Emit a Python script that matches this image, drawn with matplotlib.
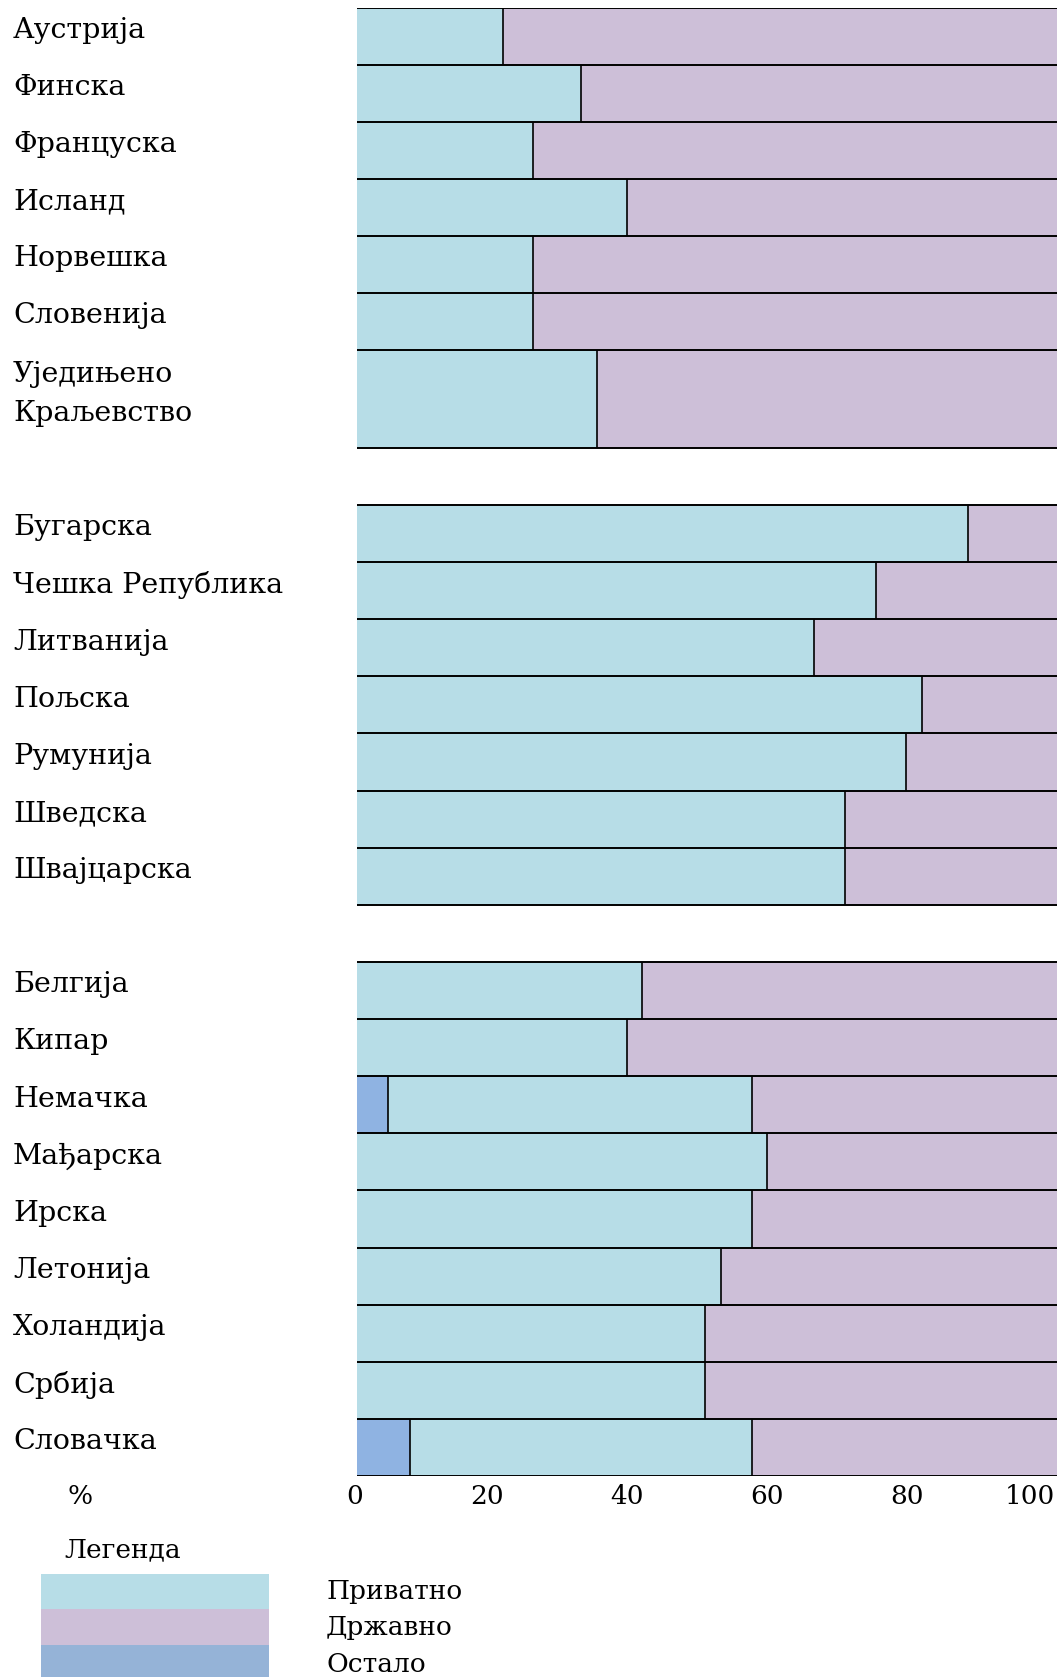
import numpy as np
import matplotlib.pyplot as plt
from matplotlib.transforms import blended_transform_factory, ScaledTranslation
from matplotlib.patches import Rectangle

# data: share of private / state / other (%)
group1 = ['Аустрија', 'Финска', 'Француска', 'Исланд', 'Норвешка', 'Словенија',
          'Уједињено\nКраљевство']
private1 = [20.8, 32, 25.2, 38.5, 25.2, 25.2, 34.3]
other1 = [0, 0, 0, 0, 0, 0, 0]

group2 = ['Бугарска', 'Чешка Република', 'Литванија', 'Пољска', 'Румунија',
          'Шведска', 'Швајцарска']
private2 = [87.3, 74.1, 65.3, 80.7, 78.4, 69.7, 69.7]
other2 = [0, 0, 0, 0, 0, 0, 0]

group3 = ['Белгија', 'Кипар', 'Немачка', 'Мађарска', 'Ирска', 'Летонија',
          'Холандија', 'Србија', 'Словачка']
private3 = [40.7, 38.5, 52.0, 58.6, 56.4, 52.0, 49.7, 49.7, 48.8]
other3 = [0, 0, 4.4, 0, 0, 0, 0, 0, 7.6]

xticks = [0, 20, 40, 60, 80, 100]
legend_labels = ['Приватно', 'Државно', 'Остало']

c_private = '#b7dde7'
c_state = '#cdbfd8'
c_other = '#8fb3e2'
c_other_leg = '#95b3d7'

plt.rcParams['font.family'] = ['DejaVu Serif']

W, H = 1057, 1677
fig = plt.figure(figsize=(W / 100, H / 100), dpi=100)
top_px, bot_px = 7.5, 1476
left_px, right_px = 357, 1057
ax = fig.add_axes([left_px / W, 1 - bot_px / H, (right_px - left_px) / W, (bot_px - top_px) / H])

groups = [(group1, private1, other1), (group2, private2, other2), (group3, private3, other3)]
trans = blended_transform_factory(fig.transFigure, ax.transData)

y = 0.0
for names, priv, oth in groups:
    ax.hlines(y, 0, 100, color='black', lw=1.4, zorder=3)
    for name, p, o in zip(names, priv, oth):
        h = 1.71 if '\n' in name else 1.0
        s = 100 - p - o
        ax.barh(y, o, height=h, left=0, align='edge', color=c_other, lw=0)
        ax.barh(y, p, height=h, left=o, align='edge', color=c_private, lw=0)
        ax.barh(y, s, height=h, left=o + p, align='edge', color=c_state, lw=0)
        if o > 0:
            ax.vlines(o, y, y + h, color='black', lw=1.2, zorder=3)
        ax.vlines(o + p, y, y + h, color='black', lw=1.2, zorder=3)
        ax.hlines(y + h, 0, 100, color='black', lw=1.4, zorder=3)
        ty = y + 0.4 if h == 1.0 else y + 0.77
        ax.text(13 / W, ty, name, transform=trans, ha='left', va='center',
                fontsize=20.5, linespacing=1.55)
        y += h
    y += 1.0
y -= 1.0

ax.set_xlim(0, 100)
ax.set_ylim(y, 0)
for sp in ax.spines.values():
    sp.set_visible(False)
ax.set_yticks([])
ax.set_xticks([])

# x tick labels (the middle ones sit slightly left of their value)
tick_shift = [-2, -10, -10, -10, -10, -2]
tick_trans = blended_transform_factory(ax.transData, fig.transFigure)
for v, dx in zip(xticks, tick_shift):
    ha = 'right' if v == 100 else 'center'
    off = ScaledTranslation(dx / 100, 0, fig.dpi_scale_trans)
    ax.text(v, 1 - 1496 / H, str(v), transform=tick_trans + off,
            ha=ha, va='center', fontsize=19)

fig.text(80 / W, 1 - 1496 / H, '%', ha='center', va='center', fontsize=19)

# legend
fig.text(64 / W, 1 - 1550 / H, 'Легенда', ha='left', va='center', fontsize=19)
leg_colors = [c_private, c_state, c_other_leg]
bands = [(1574, 1609), (1609, 1645), (1645, 1680)]
text_y = [1592, 1628, 1665]
for col, (a, b), lab, ty in zip(leg_colors, bands, legend_labels, text_y):
    fig.patches.append(Rectangle((41 / W, 1 - b / H), (269 - 41) / W, (b - a) / H,
                                 transform=fig.transFigure, color=col, lw=0))
    fig.text(326 / W, 1 - ty / H, lab, ha='left', va='center', fontsize=19)

fig.savefig('out.png', dpi=100)
